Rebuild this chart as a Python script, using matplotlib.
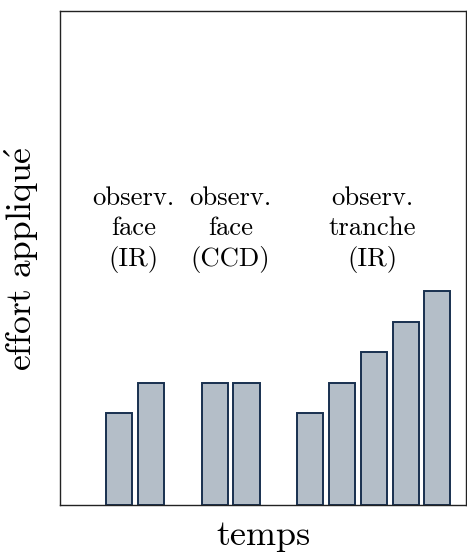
import matplotlib
matplotlib.use("Agg")
import matplotlib.pyplot as plt

# bar positions (in bar slots) and heights
positions = [1, 2, 4, 5, 7, 8, 9, 10, 11]
heights = [3, 4, 4, 4, 3, 4, 5, 6, 7]

# group labels and where they sit
group_labels = ["observ.\nface\n(IR)", "observ.\nface\n(CCD)", "observ.\ntranche\n(IR)"]
group_x = [1.45, 4.5, 8.95]
label_y = 9

plt.rcParams["mathtext.fontset"] = "cm"
plt.rcParams["font.family"] = ["cmr10", "DejaVu Serif"]
plt.rcParams["axes.formatter.use_mathtext"] = True

fig = plt.figure(figsize=(4.67, 5.52), dpi=100)
ax = fig.add_axes([0.1285, 0.0846, 0.8695, 0.8955])

ax.bar(positions, heights, width=0.82, color="#b4bec8",
       edgecolor="#18304f", linewidth=1.4)

for lab, gx in zip(group_labels, group_x):
    ax.text(gx, label_y, lab, ha="center", va="center", fontsize=19.2,
            linespacing=1.32)

ax.set_xlim(-0.86, 11.9)
ax.set_ylim(0, 16.15)
ax.set_xticks([])
ax.set_yticks([])
for sp in ax.spines.values():
    sp.set_color("#222222")
    sp.set_linewidth(1.0)

ax.set_xlabel("temps", fontsize=26, labelpad=11)
ax.set_ylabel(r"$\mathrm{effort\ appliqu\acute{e}}$", fontsize=25.5, labelpad=14)

fig.savefig("out.png", dpi=100)
